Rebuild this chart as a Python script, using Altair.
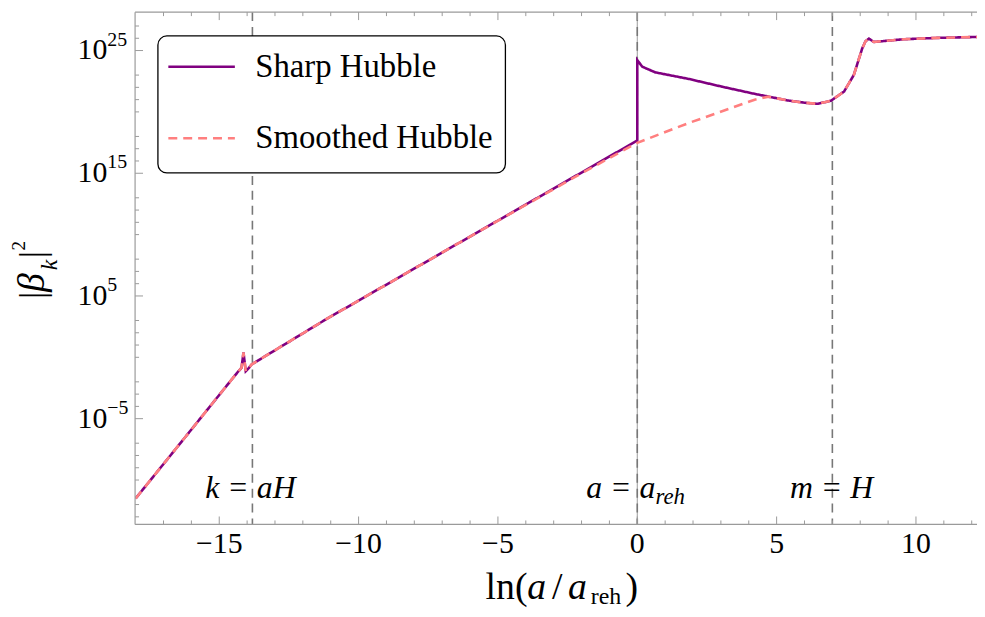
import altair as alt
import pandas as pd

# ---------------- data (log10 of |beta_k|^2) ----------------
series = ["Sharp Hubble", "Smoothed Hubble"]

sharp_x = [-18.0, -16.2, -14.55, -14.31, -14.2, -14.13, -14.05, -13.95, -13.84, -13.6, -13.36, -11.1,
           -6.0, -2.0, 0.0, 0.0001, 0.18, 0.65, 1.84, 3.03, 4.21, 4.81, 5.40, 6.0,
           6.47, 6.95, 7.42, 7.77, 8.07, 8.19, 8.31, 8.49, 9.56, 10.74, 12.23]
sharp_logy = [-11.5, -6.45, -1.8, -1.13, -0.85, 0.40, -1.13, -0.9, -0.59, -0.25, 0.08, 3.19,
              9.84, 15.06, 17.67, 24.22, 23.68, 23.22, 22.69, 22.06, 21.47, 21.2, 20.93, 20.75,
              20.66, 20.91, 21.66, 23.01, 25.16, 25.76, 25.97, 25.7, 25.92, 26.03, 26.11]

smooth_x = [-18.0, -16.2, -14.55, -14.31, -14.2, -14.13, -14.05, -13.95, -13.84, -13.6, -13.36, -11.1,
            -6.0, -2.0, 0.0, 1.84, 4.21, 4.7, 5.40, 6.0,
            6.47, 6.95, 7.42, 7.77, 8.07, 8.19, 8.31, 8.49, 9.56, 10.74, 12.23]
smooth_logy = [-11.5, -6.45, -1.8, -1.13, -0.85, 0.40, -1.13, -0.9, -0.59, -0.25, 0.08, 3.19,
               9.84, 15.0, 17.48, 19.09, 20.99, 21.24, 20.93, 20.75,
               20.66, 20.91, 21.66, 23.01, 25.16, 25.76, 25.97, 25.7, 25.92, 26.03, 26.11]

x_major = [-15, -10, -5, 0, 5, 10]
x_major_lab = ["\u221215", "\u221210", "\u22125", "0", "5", "10"]
x_minor = [v for v in range(-17, 13) if v % 5 != 0]
y_major_exp = [-5, 5, 15, 25]
y_minor_exp = [e for e in range(-13, 28) if e % 5 != 4 and e not in y_major_exp]
y_label_exp = ["\u22125", "5", "15", "25"]

guide_x = [-13.81, 0.0, 7.0]

ann_text = ["k = aH", "m = H"]
ann_x = [-13.88, 6.97]
ann_logy = -11.43

# ---------------- tables ----------------
df = pd.DataFrame({
    "x": sharp_x + smooth_x,
    "y": [10 ** v for v in sharp_logy + smooth_logy],
    "series": [series[0]] * len(sharp_x) + [series[1]] * len(smooth_x),
})
W, H = 848, 516
xs = alt.Scale(domain=[-18.02, 12.19], nice=False, zero=False)
ys = alt.Scale(type="log", domain=[10 ** -13.62, 10 ** 28.13], nice=False)
FRAME = "#9a9a9a"
SERIF = "Liberation Serif"

one = pd.DataFrame({"a": [0]})

lines = alt.Chart(df).mark_line(strokeWidth=2.6, clip=True).encode(
    x=alt.X("x:Q", scale=xs, axis=None),
    y=alt.Y("y:Q", scale=ys, axis=None),
    color=alt.Color("series:N", scale=alt.Scale(domain=series, range=["#800080", "#ff7f7f"]),
                    legend=alt.Legend(title=None, orient="none", legendX=23, legendY=20)),
    strokeDash=alt.StrokeDash("series:N", scale=alt.Scale(domain=series, range=[[1, 0], [9, 6]]),
                              legend=alt.Legend(title=None, orient="none", legendX=23, legendY=20)),
)

guides_df = pd.DataFrame({"g": guide_x})
guides = alt.Chart(guides_df).mark_rule(color="#777777", strokeWidth=1.6, strokeDash=[9, 6]).encode(
    x=alt.X("g:Q", scale=xs, axis=None))
axis0 = alt.Chart(pd.DataFrame({"g": [0.0]})).mark_rule(color="#9a9a9a", strokeWidth=1).encode(
    x=alt.X("g:Q", scale=xs, axis=None))

frame = (
    alt.Chart(one).mark_rule(color=FRAME, strokeWidth=1.2).encode(x=alt.value(0), x2=alt.value(W), y=alt.value(0))
    + alt.Chart(one).mark_rule(color=FRAME, strokeWidth=1.2).encode(x=alt.value(0), x2=alt.value(W), y=alt.value(H))
    + alt.Chart(one).mark_rule(color=FRAME, strokeWidth=1.2).encode(x=alt.value(0), y=alt.value(0), y2=alt.value(H))
)

xmaj = pd.DataFrame({"v": x_major, "lab": x_major_lab})
xmin = pd.DataFrame({"v": x_minor})
ymaj = pd.DataFrame({"v": [10 ** e for e in y_major_exp], "exp": y_label_exp})
ymin = pd.DataFrame({"v": [10 ** e for e in y_minor_exp]})

def xticks(d, L):
    b = alt.Chart(d).mark_rule(color=FRAME, strokeWidth=1).encode(
        x=alt.X("v:Q", scale=xs, axis=None), y=alt.value(H), y2=alt.value(H - L))
    t = alt.Chart(d).mark_rule(color=FRAME, strokeWidth=1).encode(
        x=alt.X("v:Q", scale=xs, axis=None), y=alt.value(0), y2=alt.value(L))
    return b + t

def yticks(d, L):
    return alt.Chart(d).mark_rule(color=FRAME, strokeWidth=1).encode(
        y=alt.Y("v:Q", scale=ys, axis=None), x=alt.value(0), x2=alt.value(L))

ticks = xticks(xmaj, 8) + xticks(xmin, 4) + yticks(ymaj, 8) + yticks(ymin, 4)

xlab = alt.Chart(xmaj).mark_text(font=SERIF, fontSize=30, align="center", baseline="alphabetic",
                                 color="black").encode(
    x=alt.X("v:Q", scale=xs, axis=None), y=alt.value(H + 29), text="lab:N")

ylab_base = alt.Chart(ymaj).mark_text(font=SERIF, fontSize=30, align="right", baseline="middle",
                                      color="black").encode(
    y=alt.Y("v:Q", scale=ys, axis=None), x=alt.value(-28), text=alt.value("10"))
ylab_exp = alt.Chart(ymaj).mark_text(font=SERIF, fontSize=20, align="left", baseline="middle",
                                     color="black", dy=-11).encode(
    y=alt.Y("v:Q", scale=ys, axis=None), x=alt.value(-28), text="exp:N")

ann_df = pd.DataFrame({"x": ann_x, "y": [10 ** ann_logy] * 2, "t": ann_text})
ann = alt.Chart(ann_df).mark_text(font=SERIF, fontSize=32, fontStyle="italic", align="center",
                                  baseline="alphabetic", color="black").encode(
    x=alt.X("x:Q", scale=xs, axis=None), y=alt.Y("y:Q", scale=ys, axis=None), text="t:N")
reh_df = pd.DataFrame({"x": [0.65], "y": [10 ** ann_logy]})
ann_a = alt.Chart(reh_df).mark_text(font=SERIF, fontSize=32, fontStyle="italic", align="right",
                                    baseline="alphabetic", color="black").encode(
    x=alt.X("x:Q", scale=xs, axis=None), y=alt.Y("y:Q", scale=ys, axis=None), text=alt.value("a = a"))
ann_reh = alt.Chart(reh_df).mark_text(font=SERIF, fontSize=23, fontStyle="italic", align="left",
                                      baseline="alphabetic", color="black", dy=6).encode(
    x=alt.X("x:Q", scale=xs, axis=None), y=alt.Y("y:Q", scale=ys, axis=None), text=alt.value("reh"))

legend_box = alt.Chart(one).mark_rect(fill="white", stroke="black", strokeWidth=1.3, cornerRadius=9).encode(
    x=alt.value(23), x2=alt.value(373), y=alt.value(24), y2=alt.value(162))

# axis title pieces
def piece(txt, x, y, size, italic=False, angle=0):
    kw = dict(font=SERIF, fontSize=size, align="left", baseline="alphabetic", color="black")
    if italic:
        kw["fontStyle"] = "italic"
    if angle:
        kw["angle"] = angle
    return alt.Chart(one).mark_text(**kw).encode(x=alt.value(x), y=alt.value(y), text=alt.value(txt))

TY = 591
xtitle = (piece("ln(", 353, TY, 38) + piece("a", 395, TY, 38, True) + piece("/", 420, TY, 38)
          + piece("a", 436, TY, 38, True) + piece("reh", 459, TY + 5, 24) + piece(")", 494, TY, 38))

ytitle = (piece("|", -92, 289, 36, angle=270) + piece("\u03b2", -92, 282, 38, True, 270)
          + piece("k", -79, 260, 24, True, 270) + piece("|", -92, 248, 36, angle=270)
          + piece("2", -111, 240, 19, angle=270))

chart = alt.layer(
    axis0, guides, lines, legend_box, ticks, frame, xlab, ylab_base, ylab_exp,
    ann, ann_a, ann_reh, xtitle, ytitle
).properties(
    width=W, height=H, autosize="none",
    padding={"left": 128, "top": 2, "right": 0, "bottom": 82},
).configure_view(stroke=None).configure_legend(
    padding=0, symbolType="stroke", symbolSize=4489, symbolStrokeWidth=2.6,
    symbolOffset=9, labelOffset=19, labelFont=SERIF, labelFontSize=33, labelColor="black",
    labelLimit=0, rowPadding=20, strokeColor=None, fillColor=None,
)

chart.save("out.html", embed_options={"renderer": "svg", "actions": False})
